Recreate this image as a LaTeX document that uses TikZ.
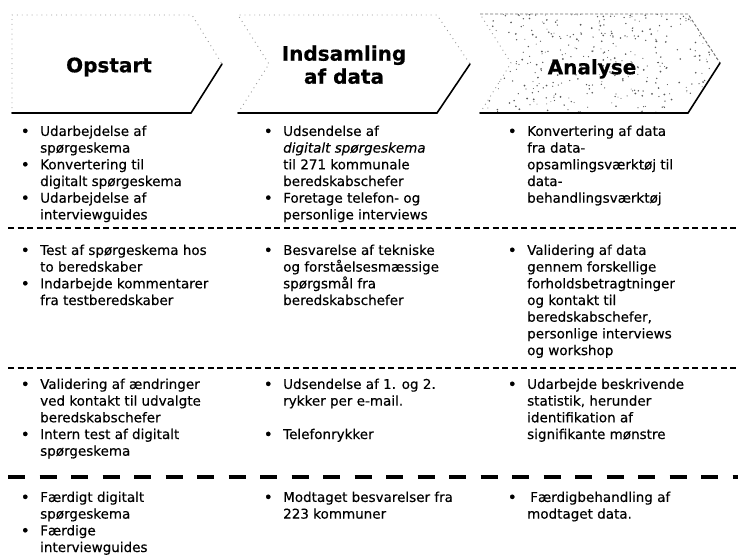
\documentclass[tikz,border=0pt]{standalone}
\usepackage{fontspec}
\setmainfont{DejaVu Sans}
\newfontfamily\bodyfont[FakeBold=0.35]{DejaVu Sans}
\newfontfamily\headfont[FakeBold=0.5]{DejaVu Sans Bold}
\tikzset{
  cell/.style={anchor=north west, align=left, inner sep=0pt, font=\bodyfont\fontsize{13.5}{16.7}\selectfont},
  head/.style={font=\headfont\fontsize{20}{23}\selectfont, align=center, inner sep=0pt},
  chevedge/.style={line width=1.6pt, line join=miter, line cap=round},
  faint/.style={black!40, loosely dotted, line width=0.9pt},
  faintdense/.style={black!55, densely dashed, line width=0.9pt},
  thinsep/.style={line width=1.2pt, dash pattern=on 6pt off 3.5pt},
  thicksep/.style={line width=4pt, dash pattern=on 17pt off 14.5pt},
  speck/.style={fill=black!65},
}
\newcommand\bu{\leavevmode\llap{\makebox[15pt][l]{\hspace{-4.5pt}\raisebox{-0.7pt}{\fontsize{15.5}{15.5}\selectfont•}}}}
\newcommand\fl{\rule{0pt}{11pt}}
\begin{document}
\begin{tikzpicture}[x=1pt,y=-1pt]
\useasboundingbox[fill=white] (0,0) rectangle (738,555);

% ---------- chevrons ----------
% chevron 1
\coordinate (c1a) at (12,113);
\coordinate (c1b) at (12,15);
\coordinate (c1c) at (192,15);
\coordinate (c1t) at (222,64);
\coordinate (c1d) at (191,113);
\draw[faint] (c1a) -- (c1b) -- (c1c) -- (c1t);
\draw[chevedge] (c1a) -- (c1d) -- (c1t);
% chevron 2
\coordinate (c2a) at (238,113);
\coordinate (c2n) at (269,64);
\coordinate (c2b) at (238,15);
\coordinate (c2c) at (437,15);
\coordinate (c2t) at (470,64);
\coordinate (c2d) at (437,113);
\draw[faint] (c2a) -- (c2n) -- (c2b) -- (c2c) -- (c2t);
\draw[chevedge] (c2a) -- (c2d) -- (c2t);
% chevron 3 (speckled)
\coordinate (c3a) at (480,113);
\coordinate (c3n) at (511,63);
\coordinate (c3b) at (480,14);
\coordinate (c3c) at (688,14);
\coordinate (c3t) at (720,63);
\coordinate (c3d) at (688,113);
\begin{scope}
  \clip (c3a) -- (c3n) -- (c3b) -- (c3c) -- (c3t) -- (c3d) -- cycle;
  \pgfmathsetseed{11}
  \foreach \i in {1,...,380}{
    \pgfmathsetmacro\rx{480+rnd*240}
    \pgfmathsetmacro\ry{14+rnd*99}
    \pgfmathsetmacro\rr{0.45+rnd*0.55}
    \fill[speck] (\rx,\ry) circle (\rr pt);
  }
\end{scope}
\draw[faint] (c3a) -- (c3n) -- (c3b);
\draw[faintdense] (c3b) -- (c3c) -- (c3t);
\draw[chevedge] (c3a) -- (c3d) -- (c3t);

% headings
\node[head, anchor=base] (h1) at (109,72.3) {Opstart};
\node[head, anchor=north] (h2) at (344,45.3) {\rule{0pt}{15pt}Indsamling\\af data};
\node[head, anchor=base] (h3) at (592,74.3) {Analyse};

% ---------- separators ----------
\coordinate (s1l) at (8,228);   \coordinate (s1r) at (738,228);
\coordinate (s2l) at (8,368);   \coordinate (s2r) at (738,368);
\coordinate (s3l) at (8,477);   \coordinate (s3r) at (738,477);
\draw[thinsep] (s1l) -- (s1r);
\draw[thinsep] (s2l) -- (s2r);
\draw[thicksep] (s3l) -- (s3r);

% ---------- row 1 ----------
\node[cell] (r1c1) at (40,124.7) {\fl\bu Udarbejdelse af\\spørgeskema\\\bu Konvertering til\\digitalt spørgeskema\\\bu Udarbejdelse af\\interviewguides};
\node[cell] (r1c2) at (283,124.7) {\fl\bu Udsendelse af\\\textit{digitalt spørgeskema}\\til 271 kommunale\\beredskabschefer\\\bu Foretage telefon- og\\personlige interviews};
\node[cell] (r1c3) at (527,124.7) {\fl\bu Konvertering af data\\fra data-\\opsamlingsværktøj til\\data-\\behandlingsværktøj};

% ---------- row 2 ----------
\node[cell] (r2c1) at (40,243.7) {\fl\bu Test af spørgeskema hos\\to beredskaber\\\bu Indarbejde kommentarer\\fra testberedskaber};
\node[cell] (r2c2) at (283,243.7) {\fl\bu Besvarelse af tekniske\\og forståelsesmæssige\\spørgsmål fra\\beredskabschefer};
\node[cell] (r2c3) at (527,243.7) {\fl\bu Validering af data\\gennem forskellige\\forholdsbetragtninger\\og kontakt til\\beredskabschefer,\\personlige interviews\\og workshop};

% ---------- row 3 ----------
\node[cell] (r3c1) at (40,377.7) {\fl\bu Validering af ændringer\\ved kontakt til udvalgte\\beredskabschefer\\\bu Intern test af digitalt\\spørgeskema};
\node[cell] (r3c2) at (283,377.7) {\fl\bu Udsendelse af 1. og 2.\\rykker per e-mail.\\\mbox{}\\\bu Telefonrykker};
\node[cell] (r3c3) at (527,377.7) {\fl\bu Udarbejde beskrivende\\statistik, herunder\\identifikation af\\signifikante mønstre};

% ---------- row 4 ----------
\node[cell] (r4c1) at (40,490.7) {\fl\bu Færdigt digitalt\\spørgeskema\\\bu Færdige\\interviewguides};
\node[cell] (r4c2) at (283,490.7) {\fl\bu Modtaget besvarelser fra\\223 kommuner};
\node[cell] (r4c3) at (527,490.7) {\fl\bu\hspace{3pt}Færdigbehandling af\\modtaget data.};
\end{tikzpicture}
\end{document}
